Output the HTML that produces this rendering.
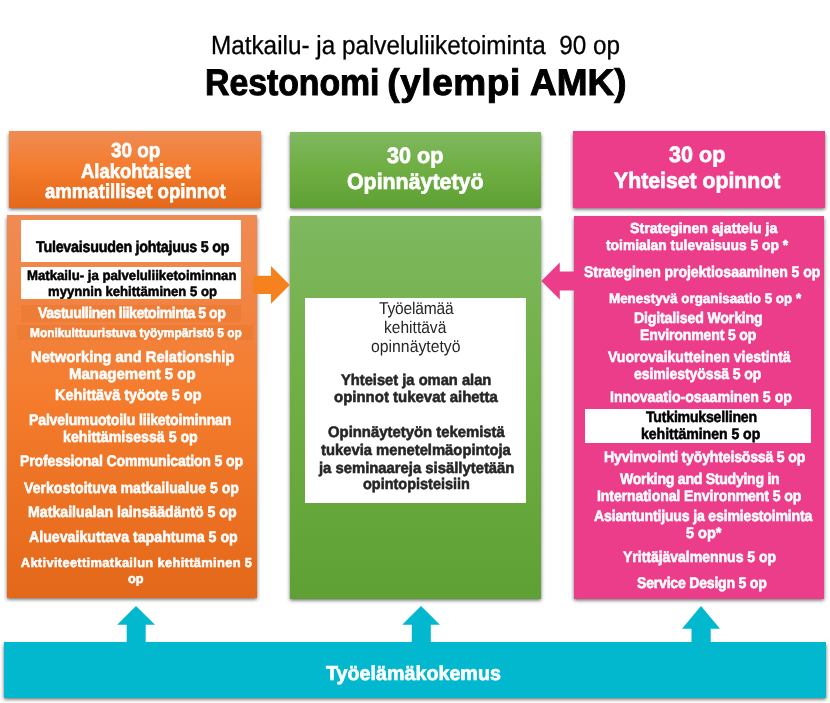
<!DOCTYPE html>
<html lang="fi">
<head>
<meta charset="utf-8">
<title>Restonomi (ylempi AMK)</title>
<style>
html,body{margin:0;padding:0;background:#fff;}
body{width:830px;height:703px;position:relative;overflow:hidden;font-family:"Liberation Sans",sans-serif;}
.b{position:absolute;box-sizing:border-box;}
.sh{box-shadow:0 1.8px 3.6px rgba(0,0,0,.6);}
.t{text-rendering:geometricPrecision;transform-origin:0 0;position:absolute;white-space:nowrap;line-height:1;font-family:"Liberation Sans",sans-serif;}
svg{position:absolute;left:0;top:0;}
</style>
</head>
<body>
<!-- headers -->
<div class="b sh" style="left:9px;top:131px;width:252px;height:76.8px;background:linear-gradient(#f08b54,#f47b2b 50%,#e4681a)"></div>
<div class="b sh" style="left:290px;top:132px;width:251px;height:75.8px;background:linear-gradient(#7fb860,#6eae42 50%,#5fa034)"></div>
<div class="b sh" style="left:573px;top:131px;width:252px;height:76.8px;background:#ec3d8b"></div>
<!-- bodies -->
<div class="b sh" style="left:7px;top:215px;width:250px;height:382.8px;background:linear-gradient(#f08b54,#f47b2b 50%,#e4681a)"></div>
<div class="b sh" style="left:290px;top:216.2px;width:251px;height:382.5px;background:linear-gradient(#7fb860,#6eae42 50%,#5fa034)"></div>
<div class="b sh" style="left:574px;top:216px;width:250px;height:382.7px;background:#ec3d8b"></div>
<!-- left inner boxes -->
<div class="b" style="left:21px;top:220px;width:220px;height:42px;background:#fff"></div>
<div class="b" style="left:21px;top:267px;width:220px;height:32px;background:#fff"></div>
<div class="b" style="left:21px;top:305px;width:220px;height:16.5px;background:#ec7c36"></div>
<div class="b" style="left:17px;top:325px;width:236px;height:15px;background:#ed7d35"></div>
<!-- middle inner box -->
<div class="b" style="left:305px;top:298px;width:221px;height:205px;background:#fff"></div>
<!-- right inner box -->
<div class="b" style="left:585px;top:409px;width:226px;height:34px;background:#fff"></div>
<!-- bottom bar -->
<div class="b sh" style="left:4px;top:642px;width:822px;height:56px;background:#02b8cf"></div>
<svg width="830" height="703" viewBox="0 0 830 703">
 <polygon points="253,275.7 271,275.7 271,266 289.8,285 271,303.8 271,294.1 253,294.1" fill="#f5821f"/>
 <polygon points="575,271.4 559.8,271.4 559.8,262.5 541.3,281 559.8,299.5 559.8,290.4 575,290.4" fill="#ec3d8b"/>
 <polygon points="136,606 155,624.7 145.7,624.7 145.7,643 126.7,643 126.7,624.7 117.2,624.7" fill="#02b8cf"/>
 <polygon points="421,606 439.9,624.7 430.8,624.7 430.8,643 411.8,643 411.8,624.7 402.2,624.7" fill="#02b8cf"/>
 <polygon points="701,606 720,628.8 710.7,628.8 710.7,643 691.5,643 691.5,628.8 682,628.8" fill="#02b8cf"/>
</svg>
<div id="txt" style="position:absolute;left:0;top:0;width:830px;height:703px;will-change:transform">
<span class="t" style="left:210.88px;top:32.00px;font-size:26.2px;font-weight:400;color:#000;-webkit-text-stroke:0.3px #000;transform:scaleX(0.9273);">Matkailu- ja palveluliiketoiminta  90 op</span>
<span class="t" style="left:205.22px;top:64.00px;font-size:37px;font-weight:700;color:#000;letter-spacing:-0.057px;-webkit-text-stroke:0.99px #000;transform:scaleX(0.9150);">Restonomi</span>
<span class="t" style="left:387.30px;top:64.00px;font-size:37px;font-weight:700;color:#000;letter-spacing:0.576px;-webkit-text-stroke:0.99px #000;">(ylempi</span>
<span class="t" style="left:530.19px;top:64.00px;font-size:37px;font-weight:700;color:#000;-webkit-text-stroke:0.99px #000;transform:scaleX(0.9995);">AMK)</span>
<span class="t" style="left:111.10px;top:141.00px;font-size:20.2px;font-weight:700;color:#fff;-webkit-text-stroke:0.65px #fff;transform:scaleX(0.9351);">30 op</span>
<span class="t" style="left:80.70px;top:162.00px;font-size:20.2px;font-weight:700;color:#fff;letter-spacing:-0.018px;-webkit-text-stroke:0.65px #fff;transform:scaleX(0.9150);">Alakohtaiset</span>
<span class="t" style="left:44.90px;top:182.00px;font-size:20.2px;font-weight:700;color:#fff;-webkit-text-stroke:0.65px #fff;transform:scaleX(0.9203);">ammatilliset opinnot</span>
<span class="t" style="left:387.24px;top:145.00px;font-size:22.3px;font-weight:700;color:#fff;-webkit-text-stroke:0.7px #fff;transform:scaleX(0.9672);">30 op</span>
<span class="t" style="left:347.44px;top:171.00px;font-size:22.3px;font-weight:700;color:#fff;-webkit-text-stroke:0.7px #fff;transform:scaleX(0.9576);">Opinnäytetyö</span>
<span class="t" style="left:668.54px;top:144.00px;font-size:22.3px;font-weight:700;color:#fff;-webkit-text-stroke:0.7px #fff;transform:scaleX(0.9672);">30 op</span>
<span class="t" style="left:613.63px;top:170.00px;font-size:22.3px;font-weight:700;color:#fff;-webkit-text-stroke:0.7px #fff;transform:scaleX(0.9521);">Yhteiset opinnot</span>
<span class="t" style="left:35.66px;top:240.00px;font-size:15.6px;font-weight:700;color:#000;letter-spacing:-0.249px;-webkit-text-stroke:0.56px #000;transform:scaleX(0.9150);">Tulevaisuuden johtajuus 5 op</span>
<span class="t" style="left:27.35px;top:269.00px;font-size:13.7px;font-weight:700;color:#000;-webkit-text-stroke:0.52px #000;transform:scaleX(0.9628);">Matkailu- ja palveluliiketoiminnan</span>
<span class="t" style="left:47.95px;top:285.00px;font-size:13.7px;font-weight:700;color:#000;-webkit-text-stroke:0.52px #000;transform:scaleX(0.9575);">myynnin kehittäminen 5 op</span>
<span class="t" style="left:37.66px;top:306.00px;font-size:15.4px;font-weight:700;color:#fff;letter-spacing:-0.511px;-webkit-text-stroke:0.56px #fff;transform:scaleX(0.9150);">Vastuullinen liiketoiminta 5 op</span>
<span class="t" style="left:30.24px;top:327.00px;font-size:12.6px;font-weight:700;color:#fff;-webkit-text-stroke:0.5px #fff;transform:scaleX(0.9423);">Monikulttuuristuva työympäristö 5 op</span>
<span class="t" style="left:30.91px;top:350.00px;font-size:15.4px;font-weight:700;color:#fff;-webkit-text-stroke:0.56px #fff;transform:scaleX(0.9592);">Networking and Relationship</span>
<span class="t" style="left:69.30px;top:367.00px;font-size:15.4px;font-weight:700;color:#fff;-webkit-text-stroke:0.56px #fff;transform:scaleX(0.9741);">Management 5 op</span>
<span class="t" style="left:55.32px;top:388.00px;font-size:15.4px;font-weight:700;color:#fff;-webkit-text-stroke:0.56px #fff;transform:scaleX(0.9412);">Kehittävä työote 5 op</span>
<span class="t" style="left:29.34px;top:413.00px;font-size:15.4px;font-weight:700;color:#fff;letter-spacing:-0.188px;-webkit-text-stroke:0.56px #fff;transform:scaleX(0.9150);">Palvelumuotoilu liiketoiminnan</span>
<span class="t" style="left:63.14px;top:430.00px;font-size:15.4px;font-weight:700;color:#fff;-webkit-text-stroke:0.56px #fff;transform:scaleX(0.9214);">kehittämisessä 5 op</span>
<span class="t" style="left:20.34px;top:454.00px;font-size:15.4px;font-weight:700;color:#fff;letter-spacing:-0.169px;-webkit-text-stroke:0.56px #fff;transform:scaleX(0.9150);">Professional Communication 5 op</span>
<span class="t" style="left:23.66px;top:481.00px;font-size:15.4px;font-weight:700;color:#fff;-webkit-text-stroke:0.56px #fff;transform:scaleX(0.9172);">Verkostoituva matkailualue 5 op</span>
<span class="t" style="left:27.94px;top:505.00px;font-size:15.4px;font-weight:700;color:#fff;-webkit-text-stroke:0.56px #fff;transform:scaleX(0.9207);">Matkailualan lainsäädäntö 5 op</span>
<span class="t" style="left:28.86px;top:530.00px;font-size:15.4px;font-weight:700;color:#fff;-webkit-text-stroke:0.56px #fff;transform:scaleX(0.9211);">Aluevaikuttava tapahtuma 5 op</span>
<span class="t" style="left:20.75px;top:557.00px;font-size:12.9px;font-weight:700;color:#fff;letter-spacing:0.321px;-webkit-text-stroke:0.51px #fff;">Aktiviteettimatkailun kehittäminen 5</span>
<span class="t" style="left:128.05px;top:573.00px;font-size:12.9px;font-weight:700;color:#fff;-webkit-text-stroke:0.51px #fff;transform:scaleX(0.9888);">op</span>
<span class="t" style="left:378.50px;top:300.00px;font-size:17.0px;font-weight:400;color:#262626;letter-spacing:-0.203px;transform:scaleX(0.9150);">Työelämää</span>
<span class="t" style="left:383.58px;top:319.00px;font-size:17.0px;font-weight:400;color:#262626;transform:scaleX(0.9159);">kehittävä</span>
<span class="t" style="left:371.40px;top:338.00px;font-size:17.0px;font-weight:400;color:#262626;transform:scaleX(0.9286);">opinnäytetyö</span>
<span class="t" style="left:340.97px;top:373.00px;font-size:15.4px;font-weight:700;color:#262626;-webkit-text-stroke:0.56px #262626;transform:scaleX(0.9553);">Yhteiset ja oman alan</span>
<span class="t" style="left:334.07px;top:390.00px;font-size:15.4px;font-weight:700;color:#262626;-webkit-text-stroke:0.56px #262626;transform:scaleX(0.9731);">opinnot tukevat aihetta</span>
<span class="t" style="left:327.77px;top:425.00px;font-size:15.4px;font-weight:700;color:#262626;-webkit-text-stroke:0.56px #262626;transform:scaleX(0.9662);">Opinnäytetyön tekemistä</span>
<span class="t" style="left:320.97px;top:443.00px;font-size:15.4px;font-weight:700;color:#262626;-webkit-text-stroke:0.56px #262626;transform:scaleX(0.9609);">tukevia menetelmäopintoja</span>
<span class="t" style="left:318.73px;top:461.00px;font-size:15.4px;font-weight:700;color:#262626;-webkit-text-stroke:0.56px #262626;transform:scaleX(0.9636);">ja seminaareja sisällytetään</span>
<span class="t" style="left:363.16px;top:477.00px;font-size:15.4px;font-weight:700;color:#262626;-webkit-text-stroke:0.56px #262626;transform:scaleX(0.9396);">opintopisteisiin</span>
<span class="t" style="left:629.76px;top:222.00px;font-size:14.5px;font-weight:700;color:#fff;-webkit-text-stroke:0.54px #fff;transform:scaleX(0.9780);">Strateginen ajattelu ja</span>
<span class="t" style="left:605.66px;top:239.00px;font-size:14.5px;font-weight:700;color:#fff;-webkit-text-stroke:0.54px #fff;transform:scaleX(0.9538);">toimialan tulevaisuus 5 op *</span>
<span class="t" style="left:583.76px;top:265.00px;font-size:15.4px;font-weight:700;color:#fff;letter-spacing:-0.077px;-webkit-text-stroke:0.56px #fff;transform:scaleX(0.9150);">Strateginen projektiosaaminen 5 op</span>
<span class="t" style="left:608.75px;top:292.00px;font-size:13.7px;font-weight:700;color:#fff;-webkit-text-stroke:0.52px #fff;transform:scaleX(0.9790);">Menestyvä organisaatio 5 op *</span>
<span class="t" style="left:634.14px;top:311.00px;font-size:15.4px;font-weight:700;color:#fff;letter-spacing:-0.153px;-webkit-text-stroke:0.56px #fff;transform:scaleX(0.9150);">Digitalised Working</span>
<span class="t" style="left:640.14px;top:328.00px;font-size:15.4px;font-weight:700;color:#fff;letter-spacing:-0.187px;-webkit-text-stroke:0.56px #fff;transform:scaleX(0.9150);">Environment 5 op</span>
<span class="t" style="left:608.46px;top:350.00px;font-size:15.4px;font-weight:700;color:#fff;letter-spacing:-0.029px;-webkit-text-stroke:0.56px #fff;transform:scaleX(0.9150);">Vuorovaikutteinen viestintä</span>
<span class="t" style="left:634.46px;top:367.00px;font-size:15.4px;font-weight:700;color:#fff;letter-spacing:-0.116px;-webkit-text-stroke:0.56px #fff;transform:scaleX(0.9150);">esimiestyössä 5 op</span>
<span class="t" style="left:610.04px;top:390.00px;font-size:15.4px;font-weight:700;color:#fff;-webkit-text-stroke:0.56px #fff;transform:scaleX(0.9167);">Innovaatio-osaaminen 5 op</span>
<span class="t" style="left:646.06px;top:410.00px;font-size:15.4px;font-weight:700;color:#000;letter-spacing:-0.214px;-webkit-text-stroke:0.56px #000;transform:scaleX(0.9150);">Tutkimuksellinen</span>
<span class="t" style="left:641.34px;top:427.00px;font-size:15.4px;font-weight:700;color:#000;letter-spacing:-0.031px;-webkit-text-stroke:0.56px #000;transform:scaleX(0.9150);">kehittäminen 5 op</span>
<span class="t" style="left:603.84px;top:450.00px;font-size:15.4px;font-weight:700;color:#fff;letter-spacing:-0.201px;-webkit-text-stroke:0.56px #fff;transform:scaleX(0.9150);">Hyvinvointi työyhteisössä 5 op</span>
<span class="t" style="left:619.76px;top:472.00px;font-size:15.4px;font-weight:700;color:#fff;letter-spacing:-0.295px;-webkit-text-stroke:0.56px #fff;transform:scaleX(0.9150);">Working and Studying in</span>
<span class="t" style="left:596.94px;top:489.00px;font-size:15.4px;font-weight:700;color:#fff;letter-spacing:-0.112px;-webkit-text-stroke:0.56px #fff;transform:scaleX(0.9150);">International Environment 5 op</span>
<span class="t" style="left:593.76px;top:509.00px;font-size:15.4px;font-weight:700;color:#fff;letter-spacing:-0.185px;-webkit-text-stroke:0.56px #fff;transform:scaleX(0.9150);">Asiantuntijuus ja esimiestoiminta</span>
<span class="t" style="left:685.56px;top:526.00px;font-size:15.4px;font-weight:700;color:#fff;-webkit-text-stroke:0.56px #fff;transform:scaleX(0.9425);">5 op*</span>
<span class="t" style="left:622.86px;top:550.00px;font-size:15.4px;font-weight:700;color:#fff;letter-spacing:-0.058px;-webkit-text-stroke:0.56px #fff;transform:scaleX(0.9150);">Yrittäjävalmennus 5 op</span>
<span class="t" style="left:636.96px;top:576.00px;font-size:15.4px;font-weight:700;color:#fff;letter-spacing:-0.242px;-webkit-text-stroke:0.56px #fff;transform:scaleX(0.9150);">Service Design 5 op</span>
<span class="t" style="left:325.52px;top:664.00px;font-size:20.2px;font-weight:700;color:#fff;-webkit-text-stroke:0.65px #fff;transform:scaleX(0.9762);">Työelämäkokemus</span>
</div>
</body>
</html>
